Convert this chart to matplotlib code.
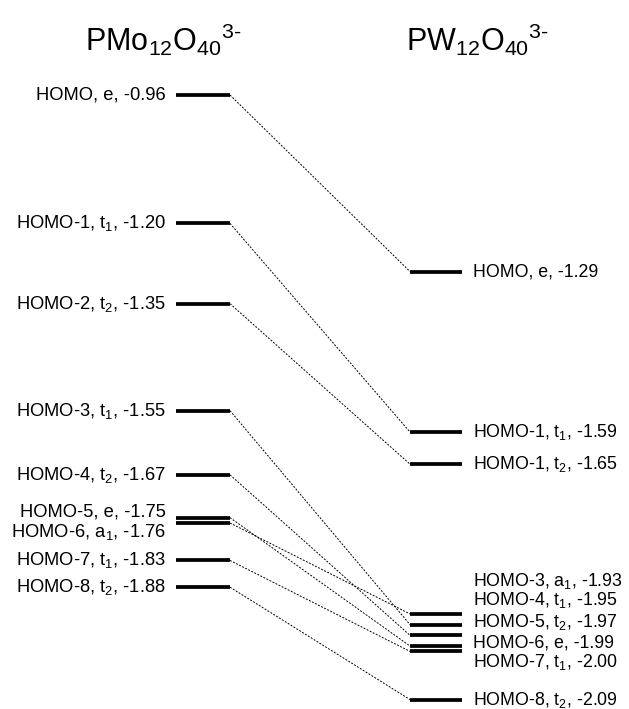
import matplotlib.pyplot as plt

plt.rcParams['font.family'] = ['Liberation Sans', 'DejaVu Sans']
plt.rcParams['mathtext.fontset'] = 'custom'
plt.rcParams['mathtext.rm'] = 'Liberation Sans'
plt.rcParams['mathtext.it'] = 'Liberation Sans:italic'
plt.rcParams['mathtext.default'] = 'regular'

# orbital energies (eV)
mo_names = ["HOMO", "HOMO-1", "HOMO-2", "HOMO-3", "HOMO-4",
            "HOMO-5", "HOMO-6", "HOMO-7", "HOMO-8"]
mo_sym = ["e", "t$_1$", "t$_2$", "t$_1$", "t$_2$", "e", "a$_1$", "t$_1$", "t$_2$"]
mo_energy = [-0.96, -1.20, -1.35, -1.55, -1.67, -1.75, -1.76, -1.83, -1.88]

w_names = ["HOMO", "HOMO-1", "HOMO-1", "HOMO-3", "HOMO-4",
           "HOMO-5", "HOMO-6", "HOMO-7", "HOMO-8"]
w_sym = ["e", "t$_1$", "t$_2$", "a$_1$", "t$_1$", "t$_2$", "e", "t$_1$", "t$_2$"]
w_energy = [-1.29, -1.59, -1.65, -1.93, -1.95, -1.97, -1.99, -2.00, -2.09]

# which PW12 level each PMo12 level correlates with
links = [0, 1, 2, 4, 5, 6, 3, 7, 8]

# label nudges in pixels (positive = down) to keep crowded labels apart
mo_nudge = [0, 0, 0, 0, 0, -6, 9, 0, 0]
w_nudge = [0, 0, 0, -33, -25, -13, -3, 11, 0]

PX = 535.0  # pixels per eV
E0, Y0 = -0.96, 95.0


def px2e(dy):
    return -dy / PX


fig = plt.figure(figsize=(6.29, 7.09), dpi=100)
ax = fig.add_axes([0, 0, 1, 1])
ax.set_xlim(0, 629)
ax.set_ylim(E0 - (709 - Y0) / PX, E0 + Y0 / PX)
ax.axis('off')

lx0, lx1 = 176, 230
rx0, rx1 = 410, 462

for name, sym, e, nd in zip(mo_names, mo_sym, mo_energy, mo_nudge):
    ax.plot([lx0, lx1], [e, e], color='black', lw=2.7, solid_capstyle='butt')
    ax.text(lx0 - 10, e + px2e(nd), f"{name}, {sym}, {e:.2f}", ha='right',
            va='center', fontsize=13.2)

for name, sym, e, nd in zip(w_names, w_sym, w_energy, w_nudge):
    ax.plot([rx0, rx1], [e, e], color='black', lw=2.7, solid_capstyle='butt')
    ax.text(rx1 + 11, e + px2e(nd), f"{name}, {sym}, {e:.2f}", ha='left',
            va='center', fontsize=12.8)

for i, j in enumerate(links):
    ax.plot([lx1, rx0], [mo_energy[i], w_energy[j]], color='black', lw=0.7,
            ls=(0, (2, 1.5)))

ax.text(163, E0 + px2e(40 - Y0), r"PMo$_{12}$O$_{40}$$^{3\text{-}}$",
        ha='center', va='center', fontsize=22)
ax.text(478, E0 + px2e(40 - Y0), r"PW$_{12}$O$_{40}$$^{3\text{-}}$",
        ha='center', va='center', fontsize=22)

fig.savefig("out.png", dpi=100)
